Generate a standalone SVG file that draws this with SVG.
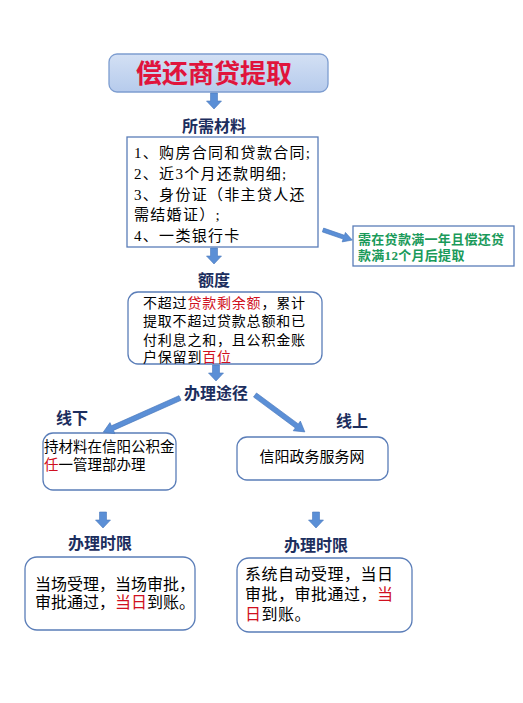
<svg xmlns="http://www.w3.org/2000/svg" width="523" height="703" viewBox="0 0 523 703">
<style>
.h{font-family:"Liberation Sans","Noto Sans CJK SC",sans-serif;font-weight:bold;fill:#1c2e5e;font-size:16px;text-anchor:middle}
.t{font-family:"Liberation Serif","Noto Sans CJK SC",serif;fill:#000}
.r{fill:#d01020}
.box{fill:#fff;stroke:#5a7db8;stroke-width:1.3}
.arr{fill:#5b8fd6;stroke:#4a78bc;stroke-width:0.6}
.g{font-family:"Liberation Serif","Noto Sans CJK SC",serif;fill:#1a9a5a;font-size:13px;font-weight:bold;letter-spacing:0.3px}
</style>
<defs>
<linearGradient id="tg" x1="0" y1="0" x2="0" y2="1">
<stop offset="0" stop-color="#d3e0f4"/>
<stop offset="1" stop-color="#b6cbec"/>
</linearGradient>
<path id="da" d="M-3.5,0 H3.5 V8 H7.5 L0,16 L-7.5,8 H-3.5 Z"/>
</defs>
<rect width="523" height="703" fill="#fff"/>

<g id="title">
<rect x="109" y="54" width="219" height="38" rx="8" fill="url(#tg)" stroke="#7d9dd0" stroke-width="1.3"/>
<text x="214" y="83" font-family="Liberation Sans,Noto Sans CJK SC,sans-serif" font-weight="bold" font-size="26" fill="#e0143c" text-anchor="middle">偿还商贷提取</text>
</g>

<g id="materials" style="font-size:15px;letter-spacing:1.3px">
<text class="h" x="214" y="132" style="letter-spacing:0">所需材料</text>
<rect class="box" x="127" y="137" width="191" height="110"/>
<text class="t" x="134" y="158">1、购房合同和贷款合同;</text>
<text class="t" x="134" y="179">2、近3个月还款明细;</text>
<text class="t" x="134" y="200">3、身份证（非主贷人还</text>
<text class="t" x="134" y="220">需结婚证）;</text>
<text class="t" x="134" y="241">4、一类银行卡</text>
</g>

<g id="note">
<rect class="box" x="353" y="226" width="161" height="40"/>
<text class="g" x="358" y="244">需在贷款满一年且偿还贷</text>
<text class="g" x="358" y="260">款满12个月后提取</text>
</g>

<g id="quota" style="font-size:14px;letter-spacing:0.8px">
<text class="h" x="214" y="286" style="letter-spacing:0">额度</text>
<rect class="box" x="128" y="292" width="194" height="72" rx="10"/>
<text class="t" x="143" y="308">不超过<tspan class="r">贷款剩余额</tspan>，累计</text>
<text class="t" x="143" y="326">提取不超过贷款总额和已</text>
<text class="t" x="143" y="345">付利息之和，且公积金账</text>
<text class="t" x="143" y="362">户保留到<tspan class="r">百位</tspan></text>
</g>

<g id="route">
<text class="h" x="216" y="399">办理途径</text>
</g>

<g id="offline" style="font-size:14.5px">
<text class="h" x="72" y="424">线下</text>
<rect class="box" x="43" y="433" width="133" height="57" rx="10"/>
<text class="t" x="44" y="452">持材料在信阳公积金</text>
<text class="t" x="44" y="470"><tspan class="r">任</tspan>一管理部办理</text>
</g>

<g id="online" style="font-size:15px">
<text class="h" x="352" y="427">线上</text>
<rect class="box" x="237" y="437" width="151" height="43" rx="10"/>
<text class="t" x="312" y="462" text-anchor="middle">信阳政务服务网</text>
</g>

<g id="time-left" style="font-size:16px">
<text class="h" x="100" y="549">办理时限</text>
<rect class="box" x="25" y="557" width="170" height="73" rx="12"/>
<text class="t" x="35" y="590">当场受理，当场审批，</text>
<text class="t" x="35" y="608">审批通过，<tspan class="r">当日</tspan>到账。</text>
</g>

<g id="time-right" style="font-size:16px;letter-spacing:0.5px">
<text class="h" x="316" y="551" style="letter-spacing:0">办理时限</text>
<rect class="box" x="237" y="558" width="175" height="74" rx="12"/>
<text class="t" x="245" y="580">系统自动受理，当日</text>
<text class="t" x="245" y="600">审批，审批通过，<tspan class="r">当</tspan></text>
<text class="t" x="245" y="620"><tspan class="r">日</tspan>到账。</text>
</g>

<g id="connectors">
<use href="#da" class="arr" x="214" y="93"/>
<use href="#da" class="arr" x="214" y="248"/>
<use href="#da" class="arr" x="216" y="365"/>
<use href="#da" class="arr" x="103" y="512"/>
<use href="#da" class="arr" x="316" y="512"/>
<path class="arr" d="M0,-2 H22 V-5 L31,0 L22,5 V2 H0 Z" transform="translate(323,230) rotate(19)"/>
<path class="arr" d="M0,-2.5 H74 V-6 L84,0 L74,6 V2.5 H0 Z" transform="translate(180,398) rotate(156)"/>
<path class="arr" d="M0,-2.5 H52 V-6 L62,0 L52,6 V2.5 H0 Z" transform="translate(255,395) rotate(36.5)"/>
</g>
</svg>
